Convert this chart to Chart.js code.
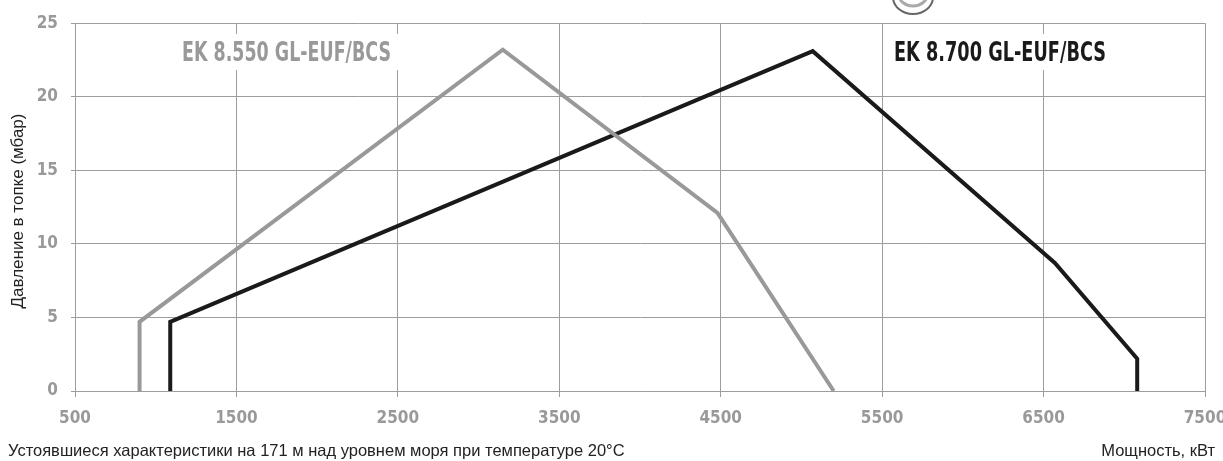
<!DOCTYPE html>
<html>
<head>
<meta charset="utf-8">
<script src="https://cdn.jsdelivr.net/npm/chart.js@4/dist/chart.umd.min.js"></script>
<style>
  body { margin: 0; background: #fff; }
  canvas { display: block; }
</style>
</head>
<body>
<canvas id="chart" width="1223" height="461"></canvas>
<script>
// EK 8.550 GL-EUF/BCS (grey)
const grayX = [900, 900, 3150, 4480, 5200];
const grayY = [0, 4.7, 23.2, 12.1, 0];
// EK 8.700 GL-EUF/BCS (black)
const blackX = [1090, 1090, 5070, 6570, 7080, 7080];
const blackY = [0, 4.7, 23.1, 8.7, 2.2, 0];

const seriesNames = ['EK 8.550 GL-EUF/BCS', 'EK 8.700 GL-EUF/BCS'];
const xTicks = [500, 1500, 2500, 3500, 4500, 5500, 6500, 7500];
const yTicks = [0, 5, 10, 15, 20, 25];

const yTitle = 'Давление в топке (мбар)';
const xTitle = 'Мощность, кВт';
const footNote = 'Устоявшиеся характеристики на 171 м над уровнем моря при температуре 20°С';

const narrow = "'Liberation Sans Narrow', 'DejaVu Sans Condensed', 'Liberation Sans', sans-serif";
const plain = "'Liberation Sans', Arial, sans-serif";
const gridGrey = '#9d9d9d';

const toPoints = (xs, ys) => xs.map((x, i) => ({ x: x, y: ys[i] }));

// squeeze a string into a given width (the original uses a condensed face)
const fitText = (ctx, text, x, y, width) => {
    const w = ctx.measureText(text).width;
    ctx.save();
    ctx.translate(x, y);
    ctx.scale(Math.min(1, width / w), 1);
    ctx.fillText(text, 0, 0);
    ctx.restore();
};

const labelBoxes = {
    id: 'labelBoxes',
    beforeDatasetsDraw(chart) {
        const ctx = chart.ctx;
        ctx.save();
        ctx.fillStyle = '#fff';
        ctx.fillRect(170, 34, 236, 36);
        ctx.fillRect(884, 34, 232, 36);
        ctx.font = 'bold 26px ' + narrow;
        ctx.textBaseline = 'middle';
        ctx.textAlign = 'left';
        ctx.fillStyle = '#999';
        fitText(ctx, seriesNames[0], 182, 54, 209);
        ctx.fillStyle = '#1a1a1a';
        fitText(ctx, seriesNames[1], 894, 54, 212);
        ctx.restore();
    },
    afterDraw(chart) {
        const ctx = chart.ctx;
        ctx.save();
        ctx.fillStyle = '#222';
        ctx.font = '17px ' + plain;
        ctx.textAlign = 'center';
        ctx.textBaseline = 'middle';
        ctx.translate(18, 211);
        ctx.rotate(-Math.PI / 2);
        ctx.fillText(yTitle, 0, 0);
        ctx.restore();

        ctx.save();
        ctx.fillStyle = '#222';
        ctx.font = '16.5px ' + plain;
        ctx.textBaseline = 'middle';
        ctx.textAlign = 'left';
        ctx.fillText(footNote, 8, 451);
        ctx.textAlign = 'right';
        ctx.fillText(xTitle, 1215, 451);

        // bit of the logo peeking in at the top
        ctx.beginPath();
        ctx.ellipse(913, -3, 20, 17, 0, 0, Math.PI);
        ctx.strokeStyle = '#666';
        ctx.lineWidth = 2;
        ctx.stroke();
        ctx.beginPath();
        ctx.ellipse(913, -5, 14, 11, 0, 0, Math.PI);
        ctx.strokeStyle = '#aaa';
        ctx.lineWidth = 3;
        ctx.stroke();
        ctx.restore();
    }
};

new Chart(document.getElementById('chart'), {
    type: 'scatter',
    data: {
        datasets: [
            {
                label: seriesNames[0],
                data: toPoints(grayX, grayY),
                showLine: true,
                borderColor: '#999',
                borderWidth: 4,
                borderJoinStyle: 'miter',
                pointRadius: 0,
                tension: 0,
            },
            {
                label: seriesNames[1],
                data: toPoints(blackX, blackY),
                showLine: true,
                borderColor: '#1a1a1a',
                borderWidth: 4,
                borderJoinStyle: 'miter',
                pointRadius: 0,
                tension: 0,
            },
        ],
    },
    options: {
        responsive: false,
        animation: false,
        layout: { padding: { top: 23, right: 18, left: 0, bottom: 0 } },
        plugins: {
            legend: { display: false },
            tooltip: { enabled: false },
        },
        scales: {
            x: {
                type: 'linear',
                min: xTicks[0],
                max: xTicks[xTicks.length - 1],
                afterBuildTicks: (axis) => { axis.ticks = xTicks.map((v) => ({ value: v })); },
                afterFit: (axis) => {
                    axis.height = 70;
                    axis.paddingLeft = 0;
                    axis.paddingRight = 0;
                },
                ticks: {
                    color: '#999',
                    font: { family: narrow, size: 17, weight: 'bold' },
                    padding: 11,
                    maxRotation: 0,
                    callback: (value) => String(value),
                },
                grid: { color: gridGrey, tickLength: 6, lineWidth: 1 },
                border: { color: gridGrey },
            },
            y: {
                min: yTicks[0],
                max: yTicks[yTicks.length - 1],
                afterBuildTicks: (axis) => { axis.ticks = yTicks.map((v) => ({ value: v })); },
                afterFit: (axis) => { axis.width = 75; },
                ticks: {
                    color: '#999',
                    font: { family: narrow, size: 17, weight: 'bold' },
                    padding: 13,
                    callback: (value) => String(value),
                },
                grid: { color: gridGrey, tickLength: 4, lineWidth: 1 },
                border: { color: gridGrey },
            },
        },
    },
    plugins: [labelBoxes],
});
</script>
</body>
</html>
